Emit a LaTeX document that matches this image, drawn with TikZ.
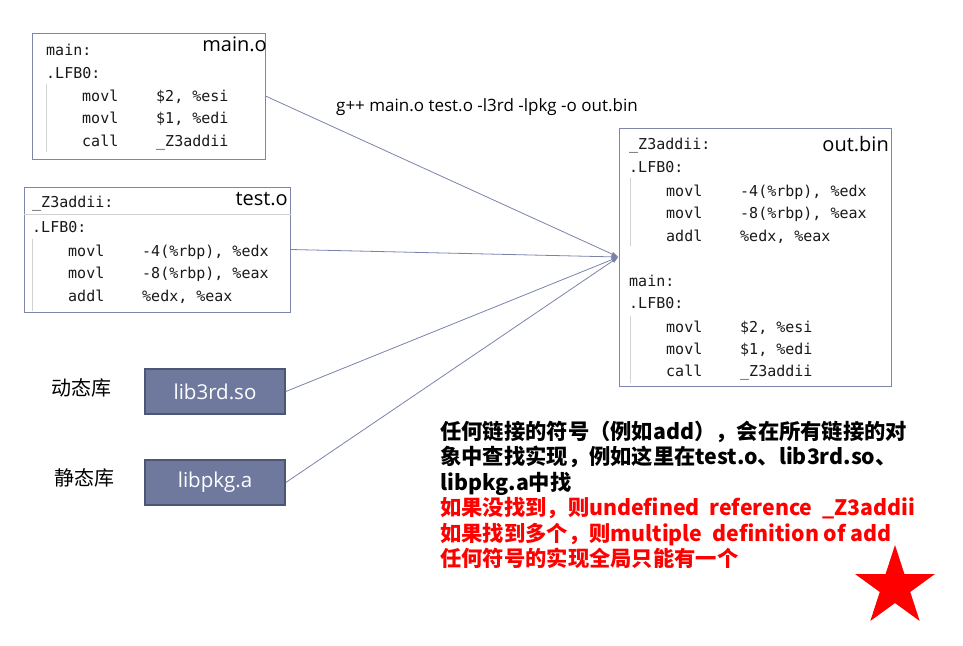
\documentclass[tikz,border=0pt]{standalone}
\usepackage{fontspec}
\setmainfont{Noto Sans CJK SC}
\setmonofont{DejaVu Sans Mono}
\newfontfamily\lab{Open Sans}
\usepackage{tikz}
\usetikzlibrary{shapes.geometric, arrows.meta, positioning}
\definecolor{boxline}{RGB}{125,135,168}
\definecolor{libfill}{RGB}{111,121,158}
\definecolor{libline}{RGB}{78,86,118}
\definecolor{guidegray}{RGB}{210,210,210}
\definecolor{linkline}{RGB}{122,130,170}
\definecolor{codetext}{RGB}{25,25,25}
\definecolor{warnred}{RGB}{255,0,0}
\newcommand{\ins}[2]{\makebox[74pt][l]{#1}#2}

\begin{document}
\begin{tikzpicture}[x=1pt, y=-1pt,
    objbox/.style={draw=boxline, line width=1pt, fill=white, inner sep=0},
    libbox/.style={draw=libline, fill=libfill, line width=1.6pt, inner sep=0,
                   minimum width=140pt, minimum height=45pt, text=white,
                   font=\lab\fontsize{20.5}{24}\selectfont},
    code/.style={anchor=base west, inner sep=0, text=codetext,
                 font=\ttfamily\fontsize{15}{18}\selectfont},
    title/.style={anchor=base east, inner sep=0,
                  font=\lab\fontsize{20}{23}\selectfont},
    kind/.style={inner sep=0, font=\fontsize{20}{24}\selectfont},
    guide/.style={draw=guidegray, line width=1pt},
    link/.style={draw=linkline, line width=0.8pt, -{Latex[length=7pt,width=5pt]}}
]
    \useasboundingbox (0,0) rectangle (963,645);

    % main.o
    \node[objbox, minimum width=233pt, minimum height=126pt] (mainobj) at (148.5,96) {};
    \node[title] (maintitle) at (267,51) {main.o};
    \node[code] at (46,55) {main:};
    \node[code] at (46,78) {.LFB0:};
    \node[code] at (82,101) {\ins{movl}{\$2, \%esi}};
    \node[code] at (82,123) {\ins{movl}{\$1, \%edi}};
    \node[code] at (82,146) {\ins{call}{\_Z3addii}};
    \draw[guide] (46,84) -- (46,152);

    % test.o
    \node[objbox, minimum width=266pt, minimum height=125pt] (testobj) at (157,249.5) {};
    \draw[draw=guidegray, line width=0.8pt] (testobj.west |- 0,214) -- (testobj.east |- 0,214);
    \node[title] (testtitle) at (288,205) {test.o};
    \node[code] at (32,207) {\_Z3addii:};
    \node[code] at (32,232) {.LFB0:};
    \node[code] at (68,256) {\ins{movl}{-4(\%rbp), \%edx}};
    \node[code] at (68,278) {\ins{movl}{-8(\%rbp), \%eax}};
    \node[code] at (68,301) {\ins{addl}{\%edx, \%eax}};
    \draw[guide] (32,239) -- (32,311);

    % out.bin
    \node[objbox, minimum width=272pt, minimum height=258pt] (outbin) at (755,257) {};
    \node[title] (outtitle) at (889,151) {out.bin};
    \node[code] at (629,149) {\_Z3addii:};
    \node[code] at (629,172) {.LFB0:};
    \node[code] at (666,196) {\ins{movl}{-4(\%rbp), \%edx}};
    \node[code] at (666,218) {\ins{movl}{-8(\%rbp), \%eax}};
    \node[code] at (666,241) {\ins{addl}{\%edx, \%eax}};
    \node[code] at (629,286) {main:};
    \node[code] at (629,308) {.LFB0:};
    \node[code] at (666,332) {\ins{movl}{\$2, \%esi}};
    \node[code] at (666,354) {\ins{movl}{\$1, \%edi}};
    \node[code] at (666,376) {\ins{call}{\_Z3addii}};
    \draw[guide] (630,178) -- (630,246);
    \draw[guide] (630,316) -- (630,383);

    % libraries
    \node[libbox] (libso) at (215,391.5) {lib3rd.so};
    \node[libbox] (liba) at (215,482.5) {libpkg.a};
    \node[kind] (dynlabel) at (81,387.5) {动态库};
    \node[kind] (statlabel) at (84,478) {静态库};

    % command
    \node[anchor=base west, inner sep=0, font=\lab\fontsize{17}{20}\selectfont]
        (cmd) at (336,111) {g++ main.o test.o -l3rd -lpkg -o out.bin};

    % links
    \draw[link] (mainobj.east) -- (outbin.west);
    \draw[link] (testobj.east) -- (outbin.west);
    \draw[link] (libso.east) -- (outbin.west);
    \draw[link] (liba.east) -- (outbin.west);

    % note (base = last line)
    \node[anchor=base west, inner sep=0, align=left,
          font=\bfseries\fontsize{21.3}{25.5}\selectfont] (note) at (440,566.5)
        {任何链接的符号（例如add），会在所有链接的对\\
         象中查找实现，例如这里在test.o、lib3rd.so、\\
         libpkg.a中找\\
         \textcolor{warnred}{如果没找到，则undefined\ \ reference\ \ \_Z3addii}\\
         \textcolor{warnred}{如果找到多个，则multiple\ \ definition of add}\\
         \textcolor{warnred}{任何符号的实现全局只能有一个}};

    \node[star, star points=5, star point ratio=2.618, fill=warnred, inner sep=0,
          minimum size=84pt] (star) at (895,587) {};
\end{tikzpicture}
\end{document}
